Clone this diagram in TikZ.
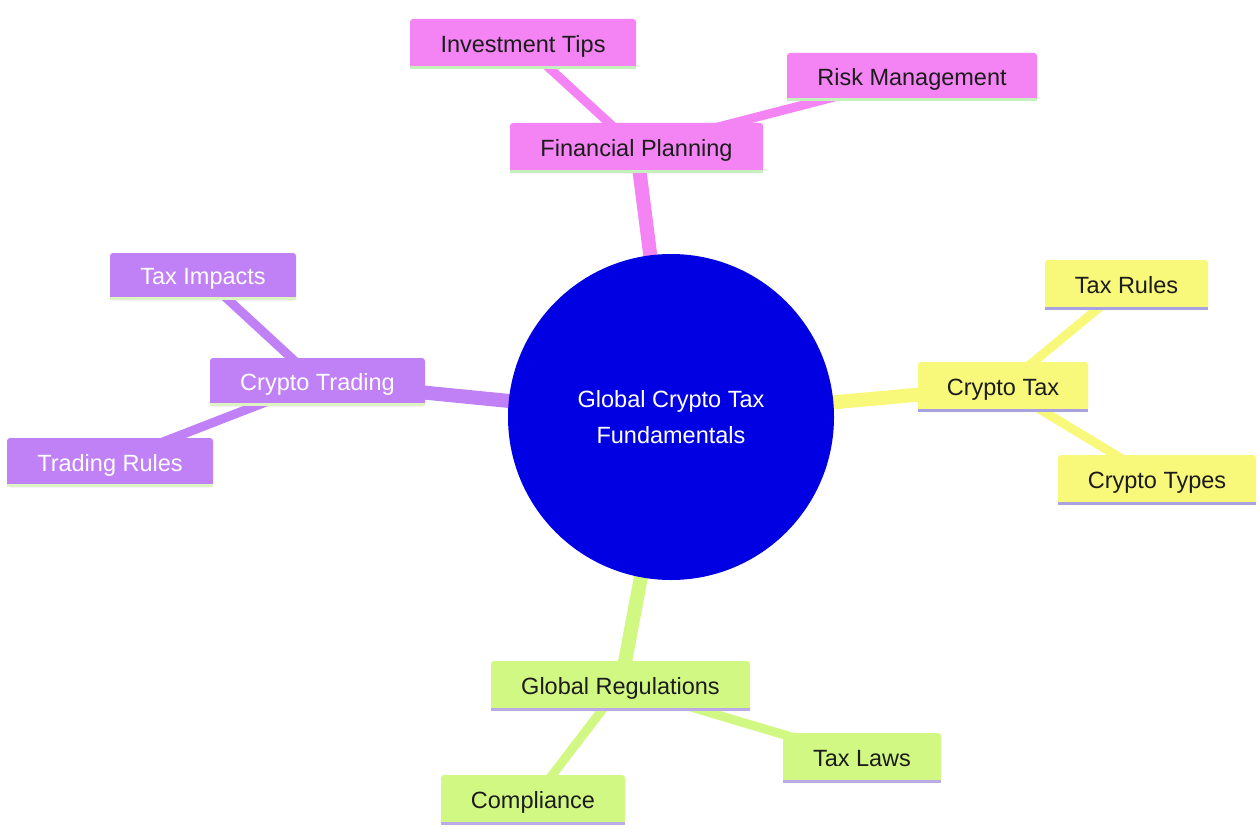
\documentclass[tikz,border=0pt]{standalone}
\usepackage{fontspec}
\setmainfont{Liberation Sans}
\definecolor{cpink}{HTML}{F484F4}
\definecolor{cpinkul}{HTML}{C4F0BC}
\definecolor{cpurple}{HTML}{C080F6}
\definecolor{cpurpleul}{HTML}{DCF4C2}
\definecolor{cyellow}{HTML}{F8F87A}
\definecolor{cyellowul}{HTML}{A8A2E2}
\definecolor{cgreen}{HTML}{D2F884}
\definecolor{cgreenul}{HTML}{BBAAE8}
\definecolor{croot}{HTML}{0000E2}
\definecolor{ctext}{HTML}{1C1C1C}
\pgfdeclarelayer{back}
\pgfdeclarelayer{edges}
\pgfsetlayers{back,edges,main}
\begin{document}
\begin{tikzpicture}[x=1pt,y=-1pt,
  every node/.style={font=\fontsize{23.5}{36}\selectfont, inner sep=0pt},
  box/.style={rounded corners=3pt, text=ctext, text depth=-2pt},
  pinkbox/.style={box, fill=cpink},
  purplebox/.style={box, fill=cpurple, text=white},
  yellowbox/.style={box, fill=cyellow},
  greenbox/.style={box, fill=cgreen},
  mainedge/.style={line width=14pt},
  leafedge/.style={line width=9pt},
  uline/.style={line width=3pt},
]
\begin{pgfonlayer}{back}
\fill[white] (0,0) rectangle (1260,832);
\end{pgfonlayer}
\useasboundingbox (0,0) rectangle (1260,832);

% root
\node[circle, fill=croot, minimum size=326pt] (root) at (671,417) {};
% sections
\node[pinkbox, minimum width=253pt, minimum height=50pt] (fin) at (636.5,148) {Financial Planning};
\node[yellowbox, minimum width=170pt, minimum height=50pt] (ctax) at (1003,387) {Crypto Tax};
\node[purplebox, minimum width=215pt, minimum height=48pt] (ctrad) at (317.5,382) {Crypto Trading};
\node[greenbox, minimum width=259pt, minimum height=50pt] (glob) at (620.5,686) {Global Regulations};
% leaves
\node[pinkbox, minimum width=226pt, minimum height=50pt] (inv) at (523,44) {Investment Tips};
\node[pinkbox, minimum width=250pt, minimum height=48pt] (risk) at (912,77) {Risk Management};
\node[yellowbox, minimum width=163pt, minimum height=50pt] (trules) at (1126.5,285) {Tax Rules};
\node[yellowbox, minimum width=198pt, minimum height=50pt] (ctypes) at (1157,480) {Crypto Types};
\node[purplebox, minimum width=186pt, minimum height=47pt] (timp) at (203,276.5) {Tax Impacts};
\node[purplebox, minimum width=206pt, minimum height=49pt] (trad) at (110,462.5) {Trading Rules};
\node[greenbox, minimum width=158pt, minimum height=50pt] (laws) at (862,758) {Tax Laws};
\node[greenbox, minimum width=184pt, minimum height=50pt] (comp) at (533,800) {Compliance};

% edges behind nodes
\begin{pgfonlayer}{edges}
\draw[mainedge, cpink] (root.center) -- (fin.center);
\draw[mainedge, cyellow] (root.center) -- (ctax.center);
\draw[mainedge, cpurple] (root.center) -- (ctrad.center);
\draw[mainedge, cgreen] (root.center) -- (glob.center);
\draw[leafedge, cpink] (fin.center) -- (inv.center);
\draw[leafedge, cpink] (fin.center) -- (risk.center);
\draw[leafedge, cyellow] (ctax.center) -- (trules.center);
\draw[leafedge, cyellow] (ctax.center) -- (ctypes.center);
\draw[leafedge, cpurple] (ctrad.center) -- (timp.center);
\draw[leafedge, cpurple] (ctrad.center) -- (trad.center);
\draw[leafedge, cgreen] (glob.center) -- (laws.center);
\draw[leafedge, cgreen] (glob.center) -- (comp.center);
\end{pgfonlayer}

% root text
\node[text=white, align=center] (roottext) at (root.center) {Global Crypto Tax\\Fundamentals};

% underlines
\foreach \n in {fin,inv,risk}
  \draw[uline, cpinkul] ([yshift=1.5pt]\n.south west) -- ([yshift=1.5pt]\n.south east);
\foreach \n in {ctrad,timp,trad}
  \draw[uline, cpurpleul] ([yshift=1.5pt]\n.south west) -- ([yshift=1.5pt]\n.south east);
\foreach \n in {ctax,trules,ctypes}
  \draw[uline, cyellowul] ([yshift=1.5pt]\n.south west) -- ([yshift=1.5pt]\n.south east);
\foreach \n in {glob,laws,comp}
  \draw[uline, cgreenul] ([yshift=1.5pt]\n.south west) -- ([yshift=1.5pt]\n.south east);
\end{tikzpicture}
\end{document}
